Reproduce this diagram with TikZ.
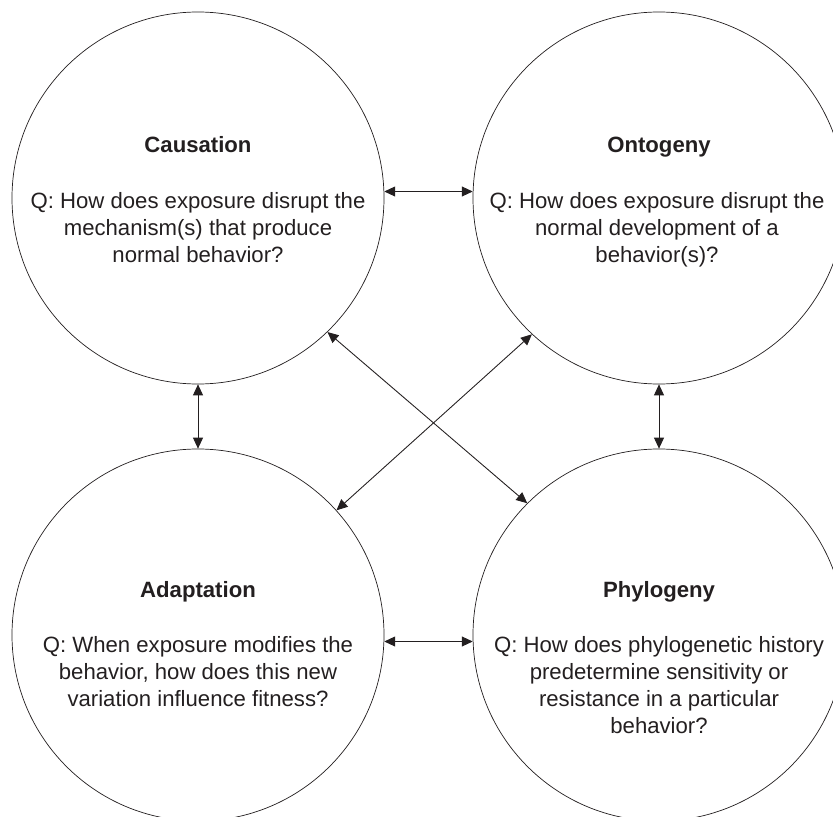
\documentclass[tikz,border=0pt]{standalone}
\usepackage{fontspec}
\setmainfont{Liberation Sans}
\usepackage{xcolor}
\usetikzlibrary{arrows.meta}

\definecolor{ink}{HTML}{231F20}

\begin{document}
\begin{tikzpicture}[x=0.03cm,y=-0.03cm,
        bubble/.style={draw=ink,circle,line width=0.6pt,minimum size=11.16cm,inner sep=0pt},
        heading/.style={text=ink,font=\fontsize{18.9}{23}\selectfont\bfseries,anchor=base,inner sep=0pt},
        question/.style={text=ink,font=\fontsize{18.9}{23}\selectfont,align=center,anchor=north,inner sep=0pt},
        link/.style={draw=ink,line width=0.75pt,{Triangle[length=0.33cm,width=0.3cm]}-{Triangle[length=0.33cm,width=0.3cm]}}]
        \useasboundingbox (0,0) rectangle (833,817);
        \clip (0,0) rectangle (833,817);

        % circles
        \node[bubble] (cau) at (198,198) {};
        \node[bubble] (ont) at (659,198) {};
        \node[bubble] (ada) at (198,635) {};
        \node[bubble] (phy) at (659,635) {};

        % headings
        \node[heading] (cauhead) at (198,153) {Causation};
        \node[heading] (onthead) at (659,153) {Ontogeny};
        \node[heading] (adahead) at (198,597) {Adaptation};
        \node[heading] (phyhead) at (659,597) {Phylogeny};

        % questions
        \node[question] (cauq) at (198,192) {Q: How does exposure disrupt the\\mechanism(s) that produce\\normal behavior?};
        \node[question] (ontq) at (657,192) {Q: How does exposure disrupt the\\normal development of a\\behavior(s)?};
        \node[question] (adaq) at (198,636) {Q: When exposure modifies the\\behavior, how does this new\\variation influence fitness?};
        \node[question] (phyq) at (659,636) {Q: How does phylogenetic history\\predetermine sensitivity or\\resistance in a particular\\behavior?};

        % links
        \draw[link] (cau.2) -- (ont.178);
        \draw[link] (ada.-2) -- (phy.182);
        \draw[link] (cau.south) -- (ada.north);
        \draw[link] (ont.south) -- (phy.north);
        \draw[link] (cau.-46) -- (phy.135);
        \draw[link] (ont.-133) -- (ada.42);
    \end{tikzpicture}
\end{document}
